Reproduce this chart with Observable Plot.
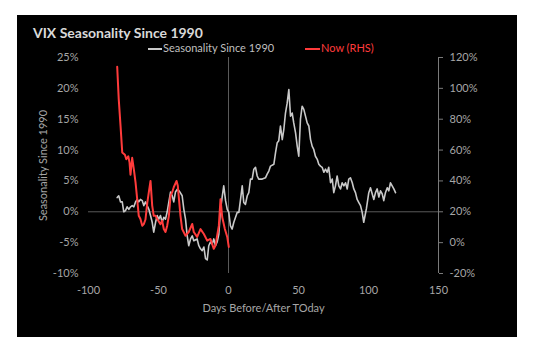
<!DOCTYPE html>
<html>
<head>
<meta charset="utf-8">
<script src="https://cdn.jsdelivr.net/npm/d3@7"></script>
<script src="https://cdn.jsdelivr.net/npm/@observablehq/plot@0.6"></script>
<style>
  html, body { margin: 0; padding: 0; background: #ffffff; width: 546px; height: 352px; overflow: hidden; }
  #panel { position: absolute; left: 17px; top: 15px; width: 500px; height: 322px; background: #000000; }
  #chart { position: absolute; left: 0; top: 0; }
  .t { position: absolute; font-family: Lato, "Open Sans", sans-serif; white-space: nowrap; }
  #title { left: 33px; top: 25px; font-size: 14px; line-height: 16px; font-weight: bold; color: #d9d9d9; }
  .leg { top: 42px; font-size: 11px; line-height: 12px; }
  .legline { position: absolute; height: 2px; }
</style>
</head>
<body>
<div id="panel"></div>
<div id="chart"></div>
<div class="t" id="title">VIX Seasonality Since 1990</div>
<div class="legline" style="left:148px; top:48px; width:14px; background:#c9c9c9;"></div>
<div class="t leg" style="left:163px; color:#bfbfbf;">Seasonality Since 1990</div>
<div class="legline" style="left:305px; top:48px; width:15px; background:#ff3b3b;"></div>
<div class="t leg" style="left:321px; color:#ff3b3b;">Now (RHS)</div>
<script>
// Seasonality since 1990 (left axis, %)
const grayDays = [-79.5,-78.4,-77.1,-75.9,-74.8,-73.6,-72.4,-71.2,-70,-68.8,-67.6,-66.4,-65.2,-64.1,-62.9,-61.6,-60.5,-59.3,-58.1,-56.9,-55.7,-54.5,-53.4,-52.1,-50.9,-49.8,-48.6,-47.4,-46.2,-45,-43.8,-42.6,-41.4,-40.2,-39.1,-37.9,-36.4,-35,-33.1,-31.9,-30.7,-29.5,-28.4,-27.1,-25.9,-24.8,-22.4,-21.2,-20,-18.8,-17.6,-16.4,-15.2,-14.1,-12.9,-11.6,-10.5,-9.3,-8.1,-6.9,-5.7,-4.5,-3.4,-2.1,-0.9,0.2,1.4,2.6,3.8,6.2,7.4,8.6,9.8,10.9,12.1,13.4,14.5,15.7,16.9,18.1,19.3,20.5,21.6,24.1,26.4,27.6,28.8,30,32.4,33.6,34.8,35.9,37.1,38.4,39.5,40.7,41.9,43.1,44.3,45.5,46.6,47.9,49.1,50.2,51.4,52.6,53.8,55,56.2,57.4,58.6,59.8,60.9,62.1,63.4,64.5,65.7,66.9,68.1,69.3,70.5,71.6,72.9,74.1,75.2,76.4,77.6,78.8,80,81.2,82.4,83.6,84.8,85.9,87.1,88.4,89.5,90.7,91.9,93.1,94.3,95.5,96.6,98.5,100.2,101.4,103.8,105,106.2,107.4,108.6,109.8,110.9,112.1,113.4,114.5,115.7,116.9,118.1,119.3];
const grayVals = [2.3,2.6,1.6,1.6,0.0,0.2,0.8,0.4,0.8,1.0,0.8,1.6,2.0,1.6,2.0,1.8,1.0,1.6,1.0,0.4,-0.6,-1.7,-3.3,-1.7,-0.6,-1.2,-0.6,-1.7,-0.9,-1.2,0.0,1.6,3.2,2.6,1.6,3.2,3.7,3.3,2.6,0.4,-1.2,-3.9,-5.5,-4.4,-3.9,-4.7,-4.4,-5.5,-6.0,-6.3,-5.7,-7.6,-7.8,-5.5,-4.9,-5.2,-4.4,-5.5,-4.9,-3.6,0.4,2.4,4.2,1.8,0.4,-0.1,-2.3,-2.8,-1.7,-0.1,-0.1,2.0,4.2,1.5,1.2,2.6,3.1,5.3,5.3,6.9,7.2,5.8,5.3,5.3,5.5,6.1,6.6,7.4,7.7,9.6,11.2,11.5,13.9,11.7,13.3,16.0,17.6,19.8,15.5,16.0,14.4,12.8,10.6,9.0,15.0,17.1,16.6,15.5,14.4,13.9,11.7,10.6,10.1,9.0,8.5,7.7,7.4,7.2,6.4,6.9,6.4,7.2,4.7,5.3,3.1,4.2,5.8,4.2,3.7,4.7,4.2,4.7,3.7,5.3,5.5,4.7,3.7,3.1,2.0,1.5,1.0,-0.1,-1.7,0.5,3.1,3.9,2.0,3.1,3.7,2.4,3.4,2.9,1.8,3.1,3.9,3.4,4.7,4.2,3.7,3.1];
// Now (right axis, %)
const redDays = [-79.5,-78.4,-77.1,-75.9,-74,-73,-71.6,-70.7,-70,-68.8,-67.6,-66.4,-65.2,-64.1,-62.9,-61.6,-60.5,-59.3,-58,-56.9,-55.7,-54.5,-53.4,-52.1,-50.9,-48.6,-47.4,-46.2,-45,-43.8,-42.6,-41.4,-40.2,-39.1,-37.1,-36.2,-35.7,-34.3,-33.1,-30.7,-28.4,-25.9,-24.8,-22.4,-20,-17.6,-15.2,-12.9,-10.5,-9.3,-6.9,-5.7,-4.5,-2.6,-0.9,0.2];
const redVals = [114,93,75.5,58.5,57,54,56,52,44,55,47.5,39,28,17.4,15.3,11,12,15,26,32.7,40,24,17.4,17.4,15.3,12,14.2,8.8,6.9,11,17.4,30.3,32.7,35.9,40,36.8,31.4,17.4,8.8,4.5,6.9,12.1,6.9,3.7,8.8,5.6,1.3,2.4,-4,-1.9,11,28.2,16.6,8.8,3.7,-2.8];
const xTicks = [-100, -50, 0, 50, 100, 150];
const yTicks = [-10, -5, 0, 5, 10, 15, 20, 25];
const rhsTicks = [-20, 0, 20, 40, 60, 80, 100, 120];

const toLeft = r => (r - 20) / 4;

const chart = Plot.plot({
  width: 546,
  height: 352,
  marginLeft: 88,
  marginRight: 108,
  marginTop: 57,
  marginBottom: 79,
  style: { background: "transparent", fontFamily: "Lato, 'Open Sans', sans-serif", fontSize: "11px", color: "#a6a6a6" },
  x: { domain: [-100, 150] },
  y: { domain: [-10, 25] },
  marks: [
    Plot.ruleY([0], { stroke: "#5a5a5a", strokeWidth: 1 }),
    Plot.ruleX([0], { stroke: "#5a5a5a", strokeWidth: 1 }),
    Plot.ruleX([150], { stroke: "#7a7a7a", strokeWidth: 1 }),
    Plot.axisY({ anchor: "left", ticks: yTicks, tickFormat: d => d + "%", tickSize: 0, tickPadding: 10, label: null, fontSize: 11 }),
    Plot.axisY({ anchor: "right", ticks: rhsTicks.map(toLeft), tickFormat: d => (4 * d + 20) + "%", tickSize: 4, tickPadding: 7, label: null, stroke: "#7a7a7a", fontSize: 11 }),
    Plot.axisX({ ticks: xTicks, tickFormat: d => String(d), tickSize: 0, tickPadding: 13, label: null, fontSize: 11 }),
    Plot.text(["Days Before/After TOday"], { frameAnchor: "bottom", dy: 38, fill: "#a6a6a6", fontSize: 11 }),
    Plot.text(["Seasonality Since 1990"], { frameAnchor: "left", textAnchor: "middle", dx: -45, rotate: -90, fill: "#a6a6a6", fontSize: 11 }),
    Plot.line(grayVals, { x: (d, i) => grayDays[i], y: d => d, stroke: "#c9c9c9", strokeWidth: 1.6 }),
    Plot.line(redVals, { x: (d, i) => redDays[i], y: d => toLeft(d), stroke: "#ff3b3b", strokeWidth: 2 })
  ]
});
document.getElementById("chart").appendChild(chart);
</script>
</body>
</html>
